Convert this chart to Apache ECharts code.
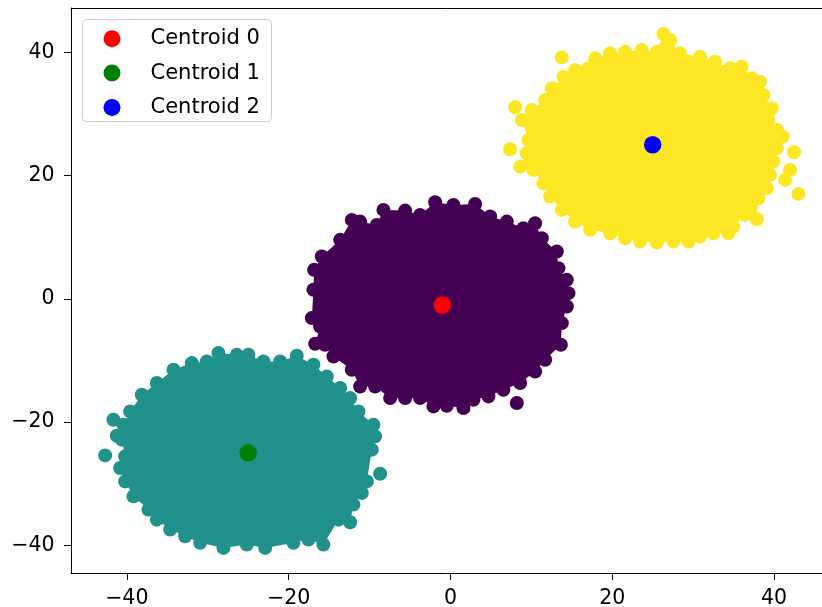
<!DOCTYPE html>
<html><head><meta charset="utf-8">
<script src="https://cdn.jsdelivr.net/npm/echarts@6/dist/echarts.min.js"></script>
<style>html,body{margin:0;padding:0;background:#fff}#c{width:822px;height:607px}</style>
</head><body><div id="c"></div>
<script>
const xTicks = [-40, -20, 0, 20, 40];
const yTicks = [-40, -20, 0, 20, 40];
const centroidNames = ['Centroid 0', 'Centroid 1', 'Centroid 2'];
const centroids = [[-1, -1], [-25, -25], [25, 25]];

// cluster 0 (purple) outer points, read clockwise
const cluster0Edge = [
  [-15.90, 6.86], [-13.63, 9.57], [-12.19, 12.81], [-11.16, 12.53], [-9.10, 12.0],
  [-8.28, 14.43], [-5.60, 14.32], [-3.75, 13.62], [-1.89, 15.68], [0.37, 15.24],
  [3.05, 15.40], [4.91, 13.35], [6.97, 12.53], [9.02, 11.46], [10.47, 12.27],
  [11.30, 9.84], [13.15, 7.67], [13.35, 4.98], [14.39, 3.08], [14.59, 0.92],
  [14.39, -1.25], [13.77, -3.94], [13.65, -7.46], [11.71, -9.89], [10.47, -11.79],
  [8.62, -13.67], [6.55, -14.76], [4.70, -15.84], [2.84, -16.38], [1.61, -17.72],
  [-0.45, -17.35], [-2.10, -17.46], [-3.75, -16.10], [-5.60, -16.10], [-7.45, -16.10],
  [-9.31, -14.22], [-11.16, -14.22], [-12.19, -11.51], [-14.46, -9.36], [-15.49, -7.46],
  [-16.72, -7.30], [-16.11, -4.49], [-17.13, -3.13], [-16.93, 1.46], [-16.85, 4.70]
];
const cluster0Outliers = [[8.21, -16.91]];

// cluster 1 (teal)
const cluster1Edge = [
  [-30.11, -10.17], [-28.68, -8.80], [-26.40, -9.08], [-24.97, -9.08], [-23.11, -10.17],
  [-21.05, -10.17], [-18.99, -9.24], [-16.93, -10.70], [-15.28, -12.60], [-13.63, -14.48],
  [-12.40, -16.10], [-11.37, -18.27], [-9.52, -20.43], [-9.31, -22.33], [-9.72, -24.48],
  [-10.33, -29.63], [-10.95, -31.51], [-11.99, -33.40], [-12.40, -36.27], [-13.84, -35.84],
  [-15.70, -39.89], [-17.55, -39.08], [-19.41, -39.61], [-22.90, -40.43], [-25.17, -39.89],
  [-28.06, -40.43], [-30.94, -39.61], [-32.79, -38.54], [-34.65, -37.46], [-36.29, -35.84],
  [-37.33, -34.21], [-39.18, -32.06], [-40.21, -29.63], [-40.83, -27.45], [-40.21, -25.57],
  [-40.62, -22.86], [-40.42, -20.43], [-39.59, -18.27], [-38.15, -15.57], [-36.29, -13.67],
  [-34.24, -11.51], [-31.97, -10.43]
];
const cluster1Outliers = [[-41.66, -19.62], [-41.24, -22.22], [-42.68, -25.41], [-8.69, -28.38]];

// cluster 2 (yellow)
const cluster2Edge = [
  [17.89, 39.03], [19.74, 39.84], [21.59, 40.10], [23.66, 40.38], [25.51, 40.10],
  [26.33, 42.97], [27.16, 42.0], [28.39, 39.84], [30.86, 39.29], [32.72, 38.48],
  [34.57, 37.41], [36.02, 37.67], [37.26, 35.79], [38.28, 35.24], [38.69, 33.08],
  [39.73, 30.92], [39.31, 29.03], [40.35, 27.40], [41.09, 26.32], [40.35, 24.44],
  [39.93, 22.26], [39.52, 20.11], [39.11, 17.95], [38.07, 16.33], [37.87, 12.92],
  [36.43, 13.62], [34.98, 11.72], [34.36, 10.65], [32.51, 10.65], [30.86, 10.10],
  [29.42, 9.29], [27.56, 9.29], [25.51, 9.13], [23.45, 9.29], [21.59, 9.84],
  [19.74, 10.65], [17.27, 11.19], [15.41, 12.53], [13.77, 14.43], [12.32, 16.59],
  [11.50, 18.76], [10.26, 20.92], [8.62, 21.45], [9.44, 23.63], [9.64, 25.78],
  [8.83, 29.03], [10.06, 30.65], [11.71, 32.27], [12.53, 34.17], [13.97, 36.05],
  [15.41, 37.13], [17.06, 37.41]
];
const cluster2Outliers = [[7.38, 24.27], [8.0, 31.08], [13.77, 39.19], [42.48, 23.79],
  [41.99, 20.92], [41.37, 19.30], [43.02, 17.03]];

const clusterColors = ['#440154', '#21918c', '#fde725'];
const centroidColors = ['#ff0000', '#008000', '#0000ff'];
const edges = [cluster0Edge, cluster1Edge, cluster2Edge];
const outliers = [cluster0Outliers, cluster1Outliers, cluster2Outliers];

const FONT = 'DejaVu Sans';
const fmt = v => String(v).replace('-', '\u2212');

const series = [];
[2, 0, 1].forEach(k => {
  const edge = edges[k];
  series.push({
    type: 'custom', name: 'cluster' + k, coordinateSystem: 'cartesian2d',
    data: edge, encode: {x: 0, y: 1}, silent: true, z: 2,
    renderItem: (params, api) => {
      if (params.dataIndex !== 0) return null;
      return {type: 'polygon', shape: {points: edge.map(p => api.coord(p))},
              style: {fill: clusterColors[k]}};
    }
  });
  series.push({
    type: 'scatter', name: 'cluster' + k + 'pts', data: edge.concat(outliers[k]),
    symbolSize: 14, itemStyle: {color: clusterColors[k], opacity: 1}, silent: true, z: 2
  });
});
centroidNames.forEach((n, i) => {
  series.push({
    type: 'scatter', name: n, data: [centroids[i]], symbolSize: 17.5,
    itemStyle: {color: centroidColors[i], opacity: 1}, z: 5
  });
});

const axisLineStyle = {show: true, onZero: false, lineStyle: {color: '#000', width: 1}};
const chart = echarts.init(document.getElementById('c'), null, {renderer: 'canvas'});
chart.setOption({
  animation: false,
  backgroundColor: '#fff',
  grid: {left: 71, top: 8, right: 0, bottom: 34, show: false, containLabel: false, outerBoundsMode: 'none'},
  xAxis: [{
    type: 'value', min: -46.9, max: 45.93, position: 'bottom',
    axisLine: axisLineStyle, splitLine: {show: false},
    axisTick: {show: true, length: 7, lineStyle: {color: '#000', width: 1}, customValues: xTicks},
    axisLabel: {customValues: xTicks, formatter: fmt, margin: 15.5, fontSize: 20.5, fontFamily: FONT, color: '#000'}
  }, {
    type: 'value', min: -46.9, max: 45.93, position: 'top',
    axisLine: axisLineStyle, splitLine: {show: false},
    axisTick: {show: false}, axisLabel: {show: false}
  }],
  yAxis: {
    type: 'value', min: -44.5, max: 47.2,
    axisLine: axisLineStyle, splitLine: {show: false},
    axisTick: {show: true, length: 7, lineStyle: {color: '#000', width: 1}, customValues: yTicks},
    axisLabel: {customValues: yTicks, formatter: fmt, margin: 16.5, fontSize: 20.5, fontFamily: FONT, color: '#000'}
  },
  graphic: [{
    type: 'rect', z: 10, silent: true,
    shape: {x: 82.5, y: 19.5, width: 189, height: 102, r: 4},
    style: {fill: 'rgba(255,255,255,0.8)', stroke: '#cccccc', lineWidth: 1}
  }],
  legend: {
    data: centroidNames, orient: 'vertical', left: 103.5, top: 28.3, padding: 0, z: 20,
    icon: 'circle', itemWidth: 67, itemHeight: 17, itemGap: 13.3,
    textStyle: {fontSize: 21, fontFamily: FONT, color: '#000', lineHeight: 20},
    selectedMode: false
  },
  series: series
});
</script></body></html>
